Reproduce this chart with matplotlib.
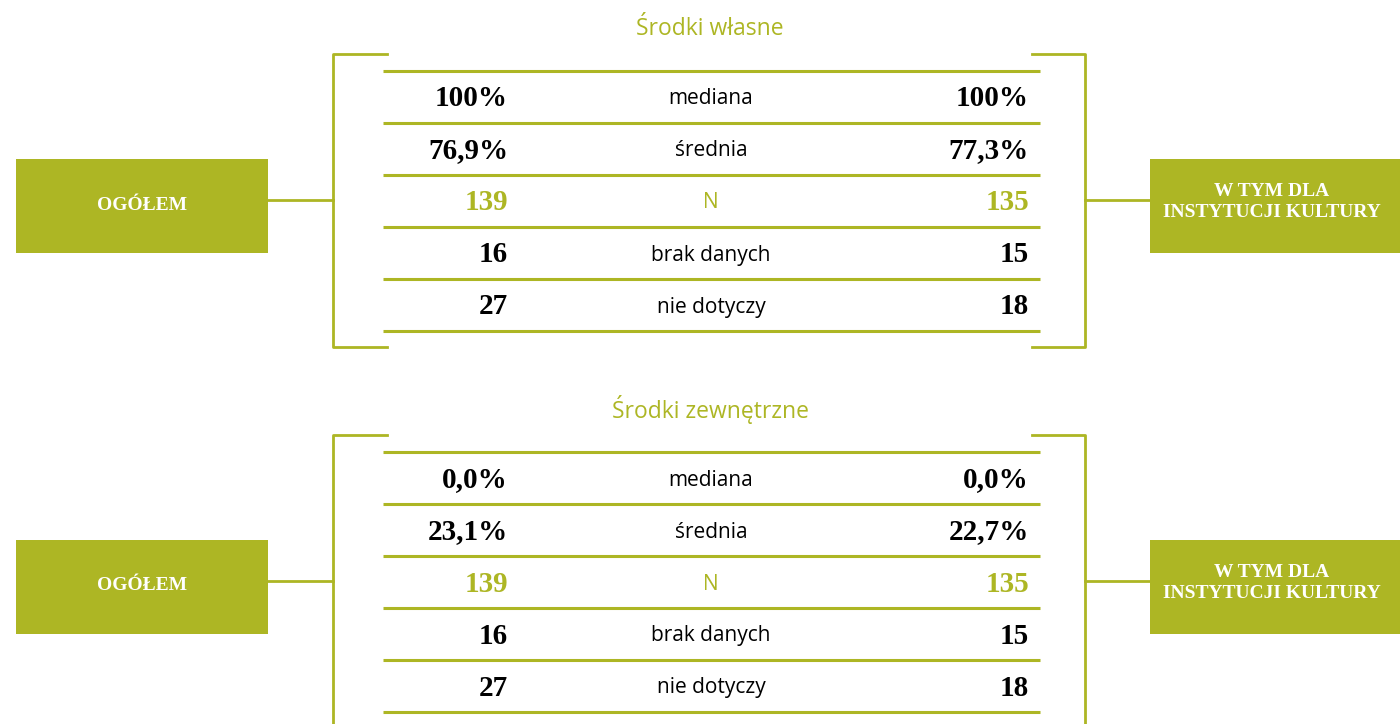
import matplotlib
matplotlib.use('Agg')
from matplotlib import pyplot as plt
from matplotlib.patches import Rectangle

olive = '#adb624'

titles = ['Środki własne', 'Środki zewnętrzne']
rows = ['mediana', 'średnia', 'N', 'brak danych', 'nie dotyczy']
left_title = 'OGÓŁEM'
right_title = 'W TYM DLA\nINSTYTUCJI KULTURY'
own_total = ['100%', '76,9%', '139', '16', '27']
own_inst = ['100%', '77,3%', '135', '15', '18']
ext_total = ['0,0%', '23,1%', '139', '16', '27']
ext_inst = ['0,0%', '22,7%', '135', '15', '18']
panels = [(own_total, own_inst), (ext_total, ext_inst)]

fig = plt.figure(figsize=(14.00, 7.24), dpi=100)
ax = fig.add_axes([0, 0, 1, 1])
ax.set_xlim(0, 1400)
ax.set_ylim(724, 0)
ax.axis('off')

serif = 'Liberation Serif'
sans = 'Open Sans'
row_h = 52

for p, (vals_l, vals_r) in enumerate(panels):
    y0 = p * 381
    ax.text(710, y0 + 29, titles[p], ha='center', va='center',
            fontsize=16.5, color=olive, family=sans)
    # brackets
    ax.plot([387, 333, 333, 387], [y0 + 54, y0 + 54, y0 + 347, y0 + 347], color=olive, lw=2)
    ax.plot([1032, 1085, 1085, 1032], [y0 + 54, y0 + 54, y0 + 347, y0 + 347], color=olive, lw=2)
    ax.plot([268, 333], [y0 + 200, y0 + 200], color=olive, lw=2)
    ax.plot([1085, 1150], [y0 + 200, y0 + 200], color=olive, lw=2)
    # side boxes
    ax.add_patch(Rectangle((16, y0 + 159), 252, 94, color=olive, lw=0))
    ax.add_patch(Rectangle((1150, y0 + 159), 260, 94, color=olive, lw=0))
    ax.text(142, y0 + 205, left_title, ha='center', va='center', color='white',
            fontsize=14, fontweight='bold', family=serif)
    ax.text(1272, y0 + 202, right_title, ha='center', va='center', color='white',
            fontsize=14, fontweight='bold', family=serif, linespacing=1.3)
    # table
    for i in range(len(rows) + 1):
        ax.plot([383, 1040], [y0 + 71 + i * row_h] * 2, color=olive, lw=2.2,
                solid_capstyle='butt')
    for i, lab in enumerate(rows):
        yc = y0 + 99 + i * row_h
        c = olive if lab == 'N' else 'black'
        ax.text(711, yc, lab, ha='center', va='center', fontsize=15, color=c, family=sans)
        ax.text(508, yc, vals_l[i], ha='right', va='center', fontsize=21,
                fontweight='bold', color=c, family=serif)
        ax.text(1029, yc, vals_r[i], ha='right', va='center', fontsize=21,
                fontweight='bold', color=c, family=serif)

fig.savefig('out.png', dpi=100)
